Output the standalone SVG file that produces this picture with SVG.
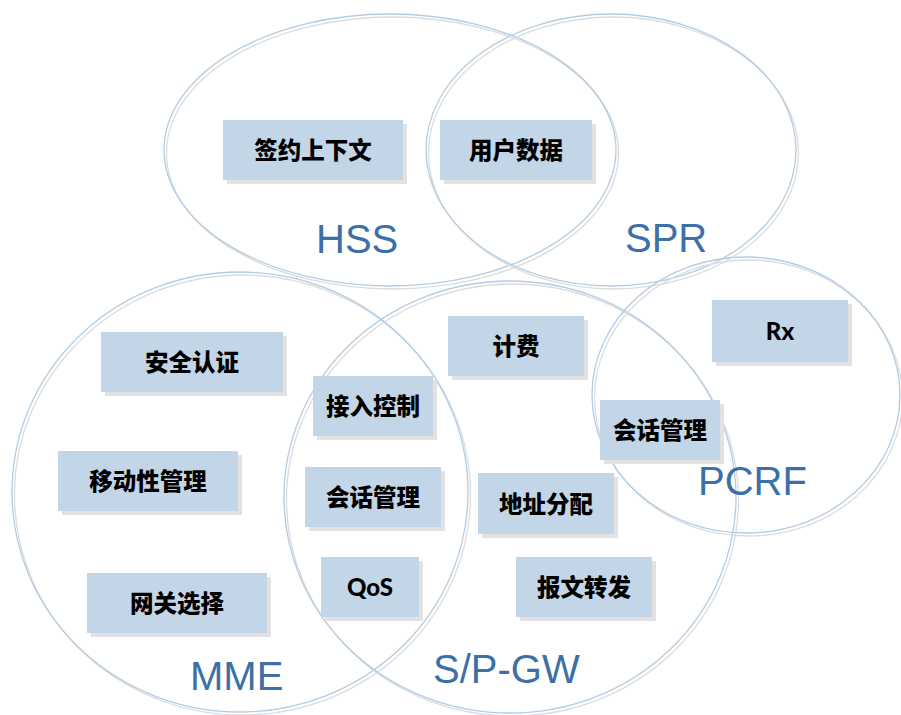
<svg xmlns="http://www.w3.org/2000/svg" width="901" height="715" viewBox="0 0 901 715">
<style>
.ring{fill:none;stroke:#B3CCE5;stroke-width:1.3}
.ringsh{fill:none;stroke:#DCDCDC;stroke-width:1.3}
.lbl{font-family:"Liberation Sans",Arial,sans-serif;font-size:40px;fill:#3C70A6}
.box{fill:#C3D6E8}
.sh{fill:#E2E2E2}
.bt{font-family:"Noto Sans CJK SC","Noto Sans",sans-serif;font-weight:900;font-size:23.5px;fill:#000;text-anchor:middle;dominant-baseline:central}
.lt{font-family:Lato,"Noto Sans",sans-serif;font-weight:900;font-size:24px;fill:#000;text-anchor:middle;dominant-baseline:central}
</style>
<rect width="901" height="715" fill="#fff"/>
<g id="HSS">
<ellipse class="ringsh" cx="392.5" cy="153" rx="226" ry="136"/>
<ellipse class="ring" cx="390" cy="150" rx="226" ry="136"/>
<text class="lbl" x="316" y="253">HSS</text>
</g>
<g id="SPR">
<ellipse class="ringsh" cx="613.5" cy="153" rx="185" ry="136"/>
<ellipse class="ring" cx="611" cy="150" rx="185" ry="136"/>
<text class="lbl" x="625" y="252">SPR</text>
</g>
<g id="MME">
<ellipse class="ringsh" cx="242.5" cy="495" rx="228" ry="220"/>
<ellipse class="ring" cx="240" cy="492" rx="228" ry="220"/>
<text class="lbl" x="190" y="690">MME</text>
</g>
<g id="SPGW">
<ellipse class="ringsh" cx="512.5" cy="500" rx="226" ry="216"/>
<ellipse class="ring" cx="510" cy="497" rx="226" ry="216"/>
<text class="lbl" x="433" y="683">S/P-GW</text>
</g>
<g id="PCRF">
<ellipse class="ringsh" cx="748.5" cy="398" rx="154" ry="138"/>
<ellipse class="ring" cx="746" cy="395" rx="154" ry="138"/>
<text class="lbl" x="698" y="495">PCRF</text>
</g>
<g id="connectors"></g>
<g id="b-qianyue">
<rect class="sh" x="227" y="124" width="180" height="60"/>
<rect class="box" x="223" y="120" width="180" height="60"/>
<text class="bt" x="313" y="149">签约上下文</text>
</g>
<g id="b-yonghu">
<rect class="sh" x="444" y="124" width="152" height="60"/>
<rect class="box" x="440" y="120" width="152" height="60"/>
<text class="bt" x="516" y="149">用户数据</text>
</g>
<g id="b-rx">
<rect class="sh" x="716" y="304" width="136" height="62"/>
<rect class="box" x="712" y="300" width="136" height="62"/>
<text class="lt" x="780" y="330">Rx</text>
</g>
<g id="b-pcrf-session">
<rect class="sh" x="604" y="404" width="120" height="60"/>
<rect class="box" x="600" y="400" width="120" height="60"/>
<text class="bt" x="660" y="429">会话管理</text>
</g>
<g id="b-anquan">
<rect class="sh" x="105" y="336" width="182" height="60"/>
<rect class="box" x="101" y="332" width="182" height="60"/>
<text class="bt" x="192" y="361">安全认证</text>
</g>
<g id="b-yidong">
<rect class="sh" x="62" y="455" width="180" height="60"/>
<rect class="box" x="58" y="451" width="180" height="60"/>
<text class="bt" x="148" y="480">移动性管理</text>
</g>
<g id="b-wangguan">
<rect class="sh" x="91" y="577" width="180" height="60"/>
<rect class="box" x="87" y="573" width="180" height="60"/>
<text class="bt" x="177" y="602">网关选择</text>
</g>
<g id="b-jieru">
<rect class="sh" x="317" y="380" width="120" height="60"/>
<rect class="box" x="313" y="376" width="120" height="60"/>
<text class="bt" x="373" y="405">接入控制</text>
</g>
<g id="b-huihua">
<rect class="sh" x="309" y="471" width="136" height="60"/>
<rect class="box" x="305" y="467" width="136" height="60"/>
<text class="bt" x="373" y="496">会话管理</text>
</g>
<g id="b-qos">
<rect class="sh" x="325" y="561" width="98" height="60"/>
<rect class="box" x="321" y="557" width="98" height="60"/>
<text class="lt" x="370" y="586">QoS</text>
</g>
<g id="b-jifei">
<rect class="sh" x="452" y="320" width="136" height="60"/>
<rect class="box" x="448" y="316" width="136" height="60"/>
<text class="bt" x="516" y="345">计费</text>
</g>
<g id="b-dizhi">
<rect class="sh" x="482" y="477" width="136" height="61"/>
<rect class="box" x="478" y="473" width="136" height="61"/>
<text class="bt" x="546" y="503">地址分配</text>
</g>
<g id="b-baowen">
<rect class="sh" x="520" y="561" width="136" height="60"/>
<rect class="box" x="516" y="557" width="136" height="60"/>
<text class="bt" x="584" y="586">报文转发</text>
</g>
</svg>
